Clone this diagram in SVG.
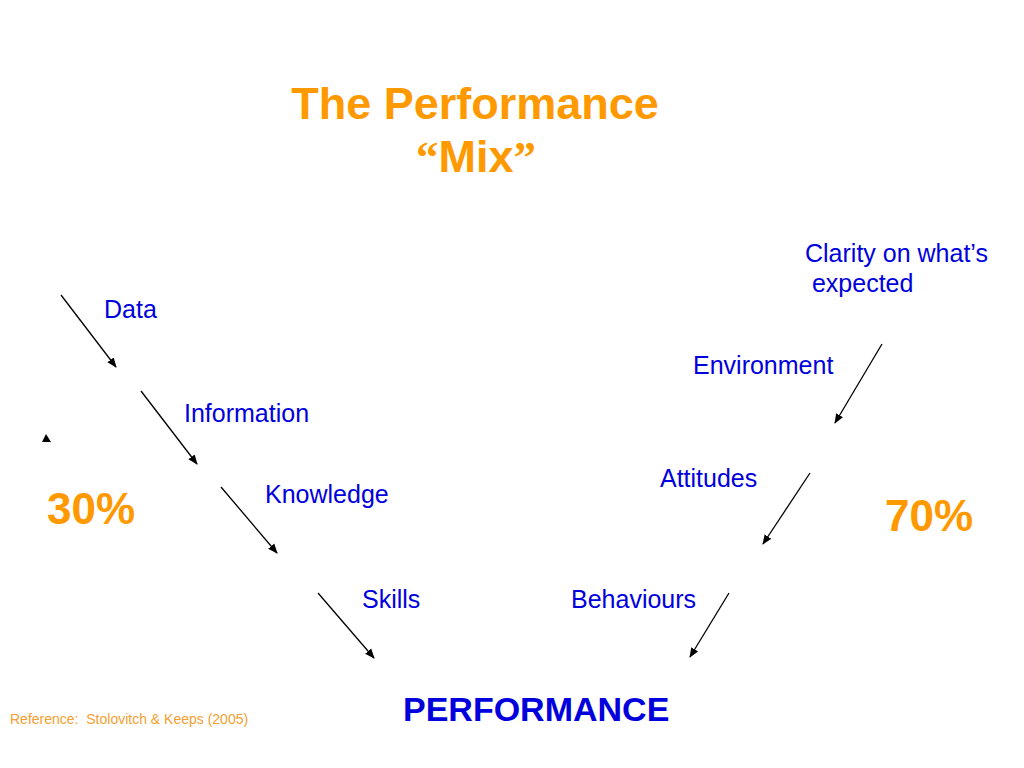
<svg xmlns="http://www.w3.org/2000/svg" width="1024" height="768" viewBox="0 0 1024 768">
<defs>
<marker id="ah" viewBox="0 0 10 10" refX="9" refY="5" markerWidth="10" markerHeight="10" markerUnits="userSpaceOnUse" orient="auto">
<path d="M0,1 L10,5 L0,9 Z" fill="#000"/>
</marker>
<style>
.t{font-family:"Liberation Sans",Arial,sans-serif;}
.title{font-size:45px;font-weight:bold;fill:#FF9900;}
.q{font-family:"Liberation Serif","Times New Roman",serif;}
.lbl{font-size:25px;fill:#0000DD;}
.pct{font-size:44px;font-weight:bold;fill:#FF9900;}
.perf{font-size:34px;font-weight:bold;fill:#0000DD;}
.ref{font-size:14px;fill:#F4A030;}
.c{stroke:#000;stroke-width:1.3;fill:none;marker-end:url(#ah);}
</style>
</defs>
<rect width="1024" height="768" fill="#fff"/>
<g id="title" class="t">
<text class="title" x="475" y="119" text-anchor="middle">The Performance</text>
<text class="title" x="476" y="172" text-anchor="middle"><tspan class="q">“</tspan>Mix<tspan class="q">”</tspan></text>
</g>
<g id="connectors">
<line class="c" x1="61" y1="295" x2="116" y2="367"/>
<line class="c" x1="141" y1="391" x2="197" y2="464"/>
<line class="c" x1="221" y1="487" x2="277" y2="553"/>
<line class="c" x1="318" y1="593" x2="374" y2="658"/>
<line class="c" x1="882" y1="344" x2="835" y2="423"/>
<line class="c" x1="810" y1="473" x2="763" y2="544"/>
<line class="c" x1="729" y1="593" x2="690" y2="657"/>
<polygon points="46,434 42,442 51,442" fill="#000"/>
</g>
<g id="node-data" class="t"><text class="lbl" x="104" y="318">Data</text></g>
<g id="node-information" class="t"><text class="lbl" x="184" y="422">Information</text></g>
<g id="node-knowledge" class="t"><text class="lbl" x="265" y="503">Knowledge</text></g>
<g id="node-skills" class="t"><text class="lbl" x="362" y="608">Skills</text></g>
<g id="node-clarity" class="t"><text class="lbl" x="805" y="262">Clarity on what’s</text><text class="lbl" x="805" y="292" xml:space="preserve"> expected</text></g>
<g id="node-environment" class="t"><text class="lbl" x="693" y="374">Environment</text></g>
<g id="node-attitudes" class="t"><text class="lbl" x="660" y="487">Attitudes</text></g>
<g id="node-behaviours" class="t"><text class="lbl" x="571" y="608">Behaviours</text></g>
<g id="node-30" class="t"><text class="pct" x="47" y="524">30%</text></g>
<g id="node-70" class="t"><text class="pct" x="885" y="531">70%</text></g>
<g id="node-performance" class="t"><text class="perf" x="403" y="721">PERFORMANCE</text></g>
<g id="reference" class="t"><text class="ref" x="10" y="724" xml:space="preserve">Reference:  Stolovitch &amp; Keeps (2005)</text></g>
</svg>
